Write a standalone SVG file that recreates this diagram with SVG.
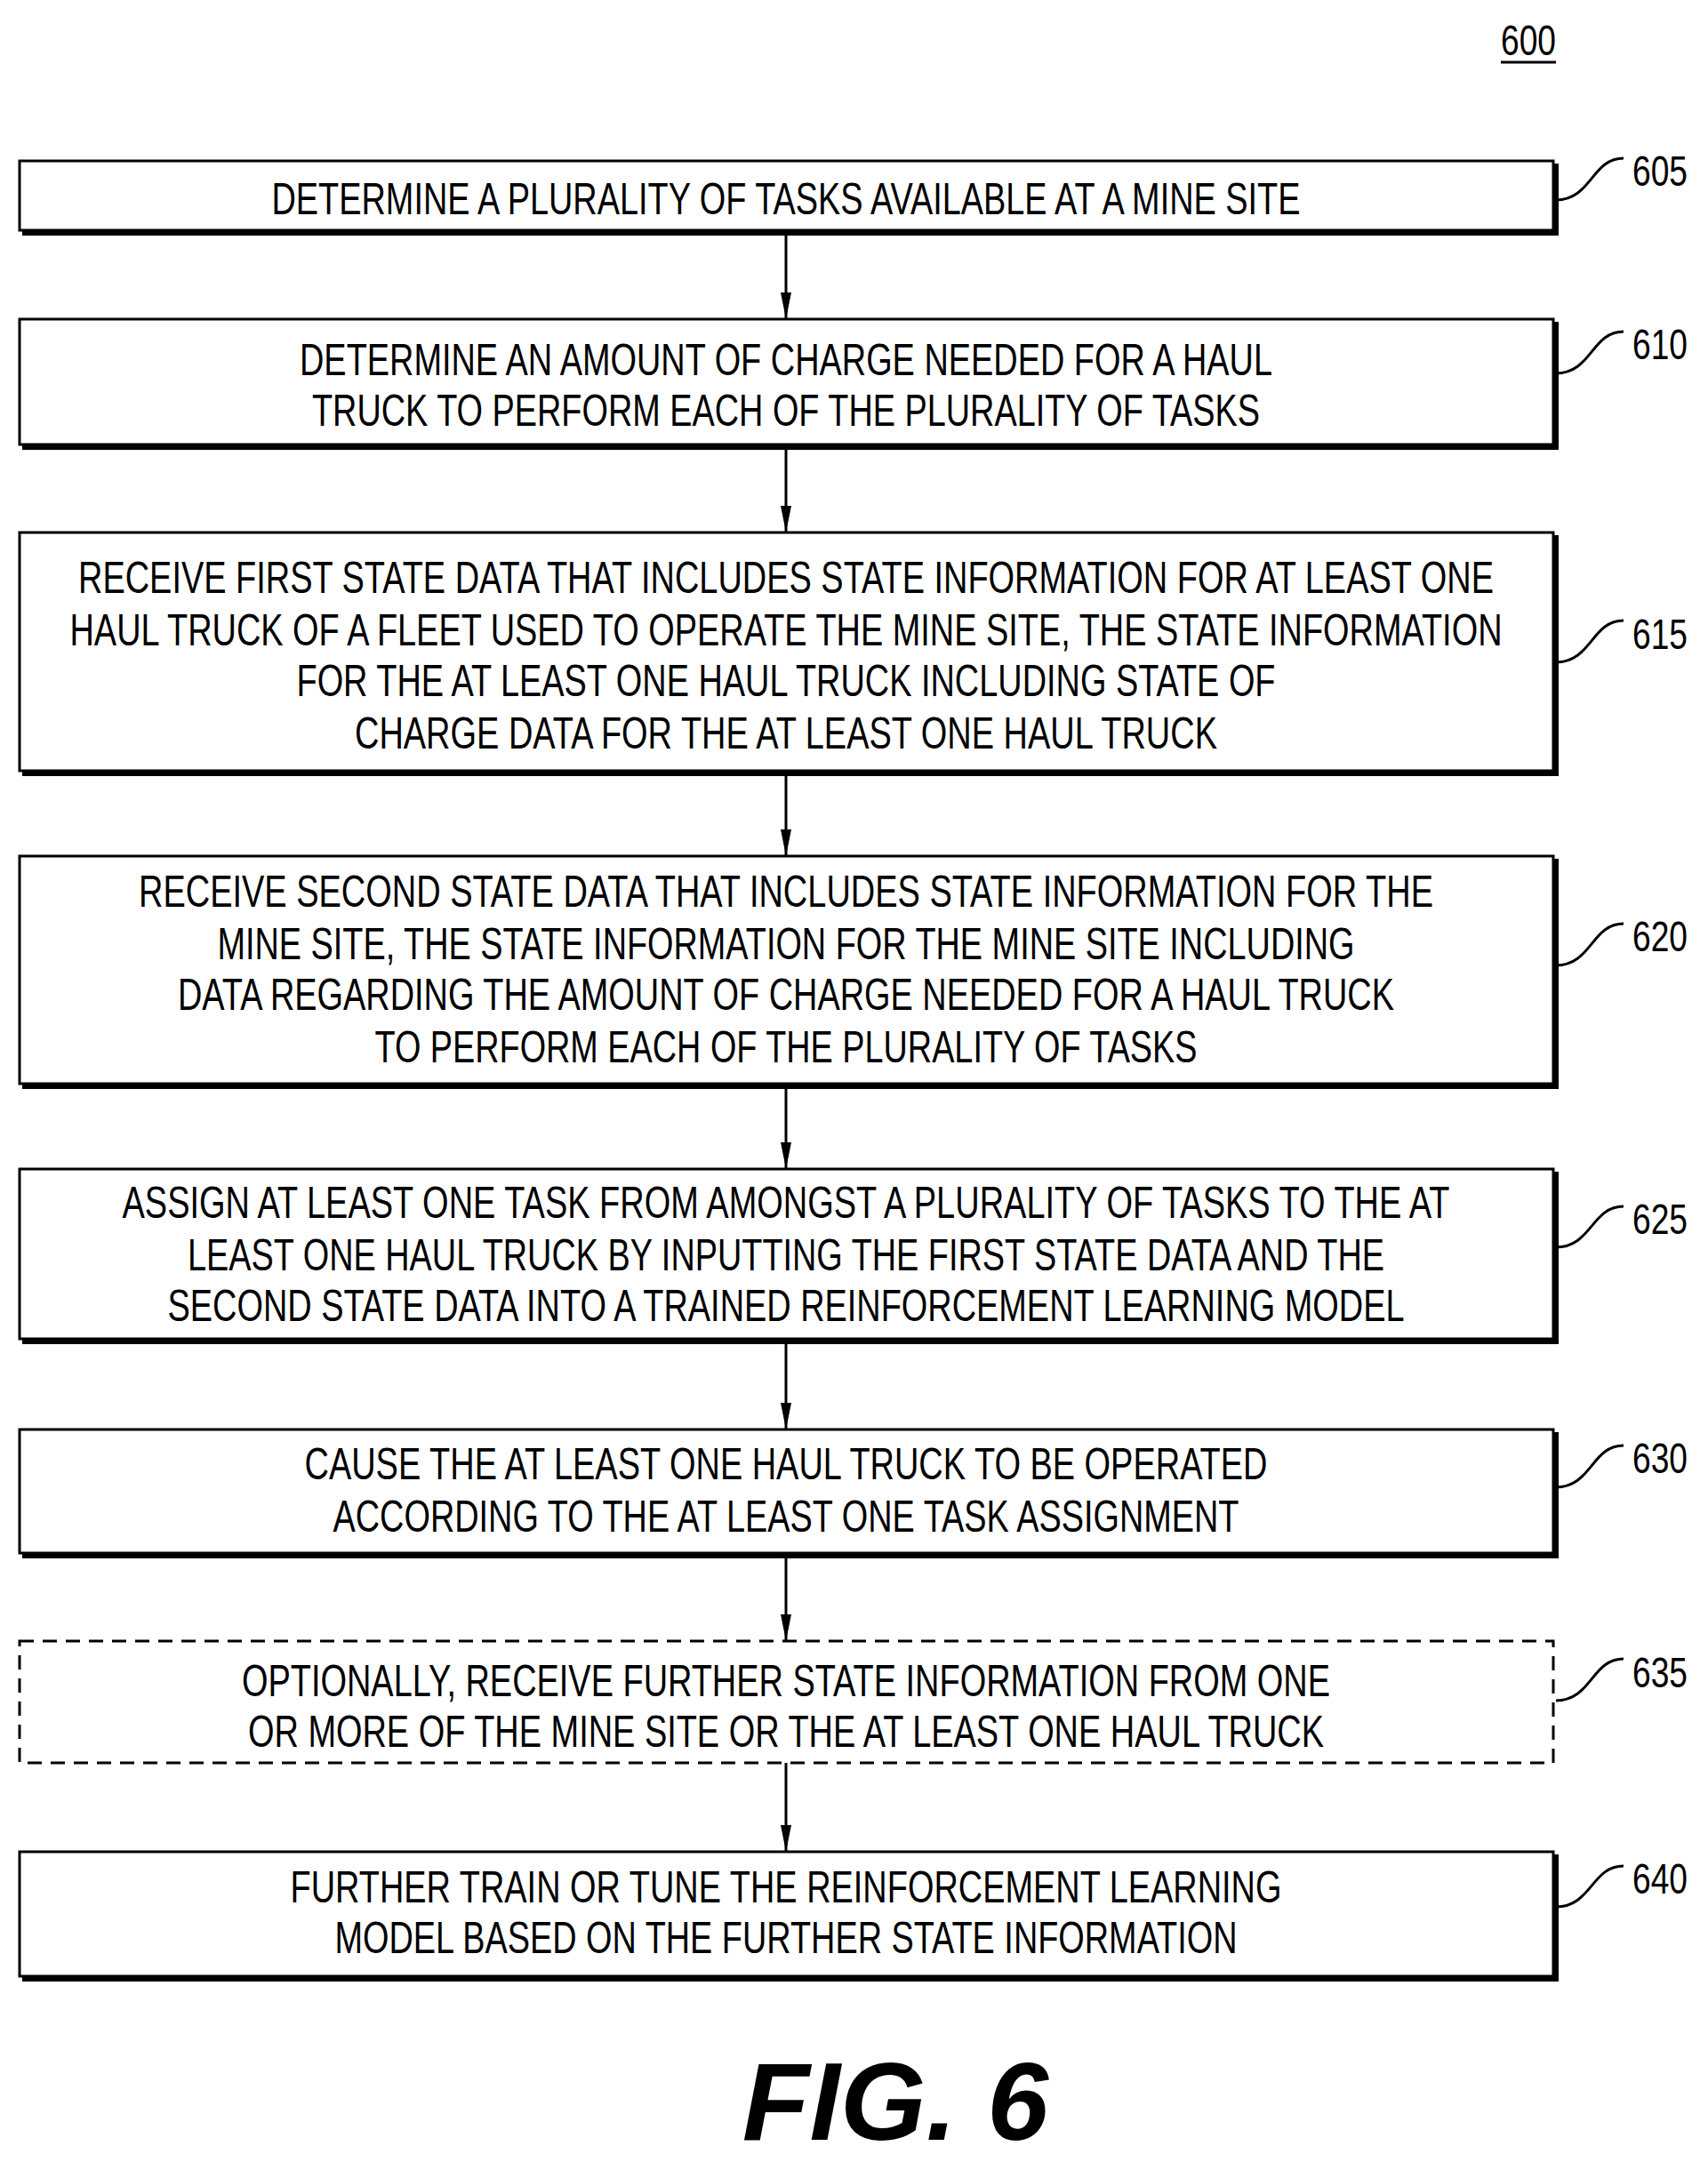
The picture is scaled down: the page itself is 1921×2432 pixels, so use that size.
<svg xmlns="http://www.w3.org/2000/svg" width="1921" height="2432" viewBox="0 0 1921 2432">
<style>
.b{fill:#fff;stroke:#000;stroke-width:3}
.d{fill:#fff;stroke:#000;stroke-width:3;stroke-dasharray:16 10}
.sh{fill:none;stroke:#000;stroke-width:6}
.t{font-family:"Liberation Sans",Arial,sans-serif;font-size:50px;text-anchor:middle}
.l{font-family:"Liberation Sans",Arial,sans-serif;font-size:48px}
.c{fill:none;stroke:#000;stroke-width:3}
.a{stroke:#000;stroke-width:3}
</style>
<defs><marker id="ah" markerWidth="12" markerHeight="30" refX="6" refY="30" orient="auto-start-reverse" markerUnits="userSpaceOnUse" viewBox="0 0 12 30"><path d="M0,0 L12,0 L6,30 Z" fill="#000" transform="rotate(0)"/></marker></defs>
<text class="l" x="1719" y="62" text-anchor="middle" textLength="62" lengthAdjust="spacingAndGlyphs">600</text>
<line x1="1688" y1="70" x2="1750" y2="70" stroke="#000" stroke-width="3"/>
<g id="n605"><rect class="b" x="22" y="181" width="1725" height="78"/><path class="sh" d="M25,262 H1750 V184"/>
<text class="t" x="884" y="241" textLength="1157" lengthAdjust="spacingAndGlyphs">DETERMINE A PLURALITY OF TASKS AVAILABLE AT A MINE SITE</text>
<path class="c" d="M1750,225 C1790,225 1790,178 1826,178"/><text class="l" x="1836" y="209" textLength="62" lengthAdjust="spacingAndGlyphs">605</text></g>
<g id="n610"><rect class="b" x="22" y="359" width="1725" height="141"/><path class="sh" d="M25,503 H1750 V362"/>
<text class="t" x="884" y="422" textLength="1094" lengthAdjust="spacingAndGlyphs">DETERMINE AN AMOUNT OF CHARGE NEEDED FOR A HAUL</text>
<text class="t" x="884" y="479" textLength="1066" lengthAdjust="spacingAndGlyphs">TRUCK TO PERFORM EACH OF THE PLURALITY OF TASKS</text>
<path class="c" d="M1750,420 C1790,420 1790,373 1826,373"/><text class="l" x="1836" y="404" textLength="62" lengthAdjust="spacingAndGlyphs">610</text></g>
<g id="n615"><rect class="b" x="22" y="599" width="1725" height="268"/><path class="sh" d="M25,870 H1750 V602"/>
<text class="t" x="884" y="667" textLength="1592" lengthAdjust="spacingAndGlyphs">RECEIVE FIRST STATE DATA THAT INCLUDES STATE INFORMATION FOR AT LEAST ONE</text>
<text class="t" x="884" y="726" textLength="1611" lengthAdjust="spacingAndGlyphs">HAUL TRUCK OF A FLEET USED TO OPERATE THE MINE SITE, THE STATE INFORMATION</text>
<text class="t" x="884" y="783" textLength="1101" lengthAdjust="spacingAndGlyphs">FOR THE AT LEAST ONE HAUL TRUCK INCLUDING STATE OF</text>
<text class="t" x="884" y="842" textLength="970" lengthAdjust="spacingAndGlyphs">CHARGE DATA FOR THE AT LEAST ONE HAUL TRUCK</text>
<path class="c" d="M1750,745 C1790,745 1790,698 1826,698"/><text class="l" x="1836" y="730" textLength="62" lengthAdjust="spacingAndGlyphs">615</text></g>
<g id="n620"><rect class="b" x="22" y="963" width="1725" height="256"/><path class="sh" d="M25,1222 H1750 V966"/>
<text class="t" x="884" y="1020" textLength="1456" lengthAdjust="spacingAndGlyphs">RECEIVE SECOND STATE DATA THAT INCLUDES STATE INFORMATION FOR THE</text>
<text class="t" x="884" y="1079" textLength="1279" lengthAdjust="spacingAndGlyphs">MINE SITE, THE STATE INFORMATION FOR THE MINE SITE INCLUDING</text>
<text class="t" x="884" y="1136" textLength="1368" lengthAdjust="spacingAndGlyphs">DATA REGARDING THE AMOUNT OF CHARGE NEEDED FOR A HAUL TRUCK</text>
<text class="t" x="884" y="1195" textLength="925" lengthAdjust="spacingAndGlyphs">TO PERFORM EACH OF THE PLURALITY OF TASKS</text>
<path class="c" d="M1750,1086 C1790,1086 1790,1039 1826,1039"/><text class="l" x="1836" y="1070" textLength="62" lengthAdjust="spacingAndGlyphs">620</text></g>
<g id="n625"><rect class="b" x="22" y="1315" width="1725" height="191"/><path class="sh" d="M25,1509 H1750 V1318"/>
<text class="t" x="884" y="1370" textLength="1493" lengthAdjust="spacingAndGlyphs">ASSIGN AT LEAST ONE TASK FROM AMONGST A PLURALITY OF TASKS TO THE AT</text>
<text class="t" x="884" y="1429" textLength="1346" lengthAdjust="spacingAndGlyphs">LEAST ONE HAUL TRUCK BY INPUTTING THE FIRST STATE DATA AND THE</text>
<text class="t" x="884" y="1486" textLength="1391" lengthAdjust="spacingAndGlyphs">SECOND STATE DATA INTO A TRAINED REINFORCEMENT LEARNING MODEL</text>
<path class="c" d="M1750,1403 C1790,1403 1790,1357 1826,1357"/><text class="l" x="1836" y="1388" textLength="62" lengthAdjust="spacingAndGlyphs">625</text></g>
<g id="n630"><rect class="b" x="22" y="1608" width="1725" height="139"/><path class="sh" d="M25,1750 H1750 V1611"/>
<text class="t" x="884" y="1664" textLength="1083" lengthAdjust="spacingAndGlyphs">CAUSE THE AT LEAST ONE HAUL TRUCK TO BE OPERATED</text>
<text class="t" x="884" y="1723" textLength="1019" lengthAdjust="spacingAndGlyphs">ACCORDING TO THE AT LEAST ONE TASK ASSIGNMENT</text>
<path class="c" d="M1750,1673 C1790,1673 1790,1626 1826,1626"/><text class="l" x="1836" y="1657" textLength="62" lengthAdjust="spacingAndGlyphs">630</text></g>
<g id="n635"><rect class="d" x="22" y="1846" width="1725" height="137"/>
<text class="t" x="884" y="1908" textLength="1224" lengthAdjust="spacingAndGlyphs">OPTIONALLY, RECEIVE FURTHER STATE INFORMATION FROM ONE</text>
<text class="t" x="884" y="1965" textLength="1210" lengthAdjust="spacingAndGlyphs">OR MORE OF THE MINE SITE OR THE AT LEAST ONE HAUL TRUCK</text>
<path class="c" d="M1750,1913 C1790,1913 1790,1866 1826,1866"/><text class="l" x="1836" y="1898" textLength="62" lengthAdjust="spacingAndGlyphs">635</text></g>
<g id="n640"><rect class="b" x="22" y="2083" width="1725" height="140"/><path class="sh" d="M25,2226 H1750 V2086"/>
<text class="t" x="884" y="2140" textLength="1115" lengthAdjust="spacingAndGlyphs">FURTHER TRAIN OR TUNE THE REINFORCEMENT LEARNING</text>
<text class="t" x="884" y="2197" textLength="1015" lengthAdjust="spacingAndGlyphs">MODEL BASED ON THE FURTHER STATE INFORMATION</text>
<path class="c" d="M1750,2145 C1790,2145 1790,2099 1826,2099"/><text class="l" x="1836" y="2130" textLength="62" lengthAdjust="spacingAndGlyphs">640</text></g>
<g id="connectors">
<line class="a" x1="884" y1="262" x2="884" y2="359"/><path d="M878,329 L890,329 L884,359 Z"/>
<line class="a" x1="884" y1="503" x2="884" y2="599"/><path d="M878,569 L890,569 L884,599 Z"/>
<line class="a" x1="884" y1="870" x2="884" y2="963"/><path d="M878,933 L890,933 L884,963 Z"/>
<line class="a" x1="884" y1="1222" x2="884" y2="1315"/><path d="M878,1285 L890,1285 L884,1315 Z"/>
<line class="a" x1="884" y1="1509" x2="884" y2="1608"/><path d="M878,1578 L890,1578 L884,1608 Z"/>
<line class="a" x1="884" y1="1750" x2="884" y2="1846"/><path d="M878,1816 L890,1816 L884,1846 Z"/>
<line class="a" x1="884" y1="1983" x2="884" y2="2083"/><path d="M878,2053 L890,2053 L884,2083 Z"/>
</g>
<text x="1007" y="2407" text-anchor="middle" font-family="Liberation Sans,Arial,sans-serif" font-size="124" font-weight="bold" font-style="italic">FIG. 6</text>
</svg>
